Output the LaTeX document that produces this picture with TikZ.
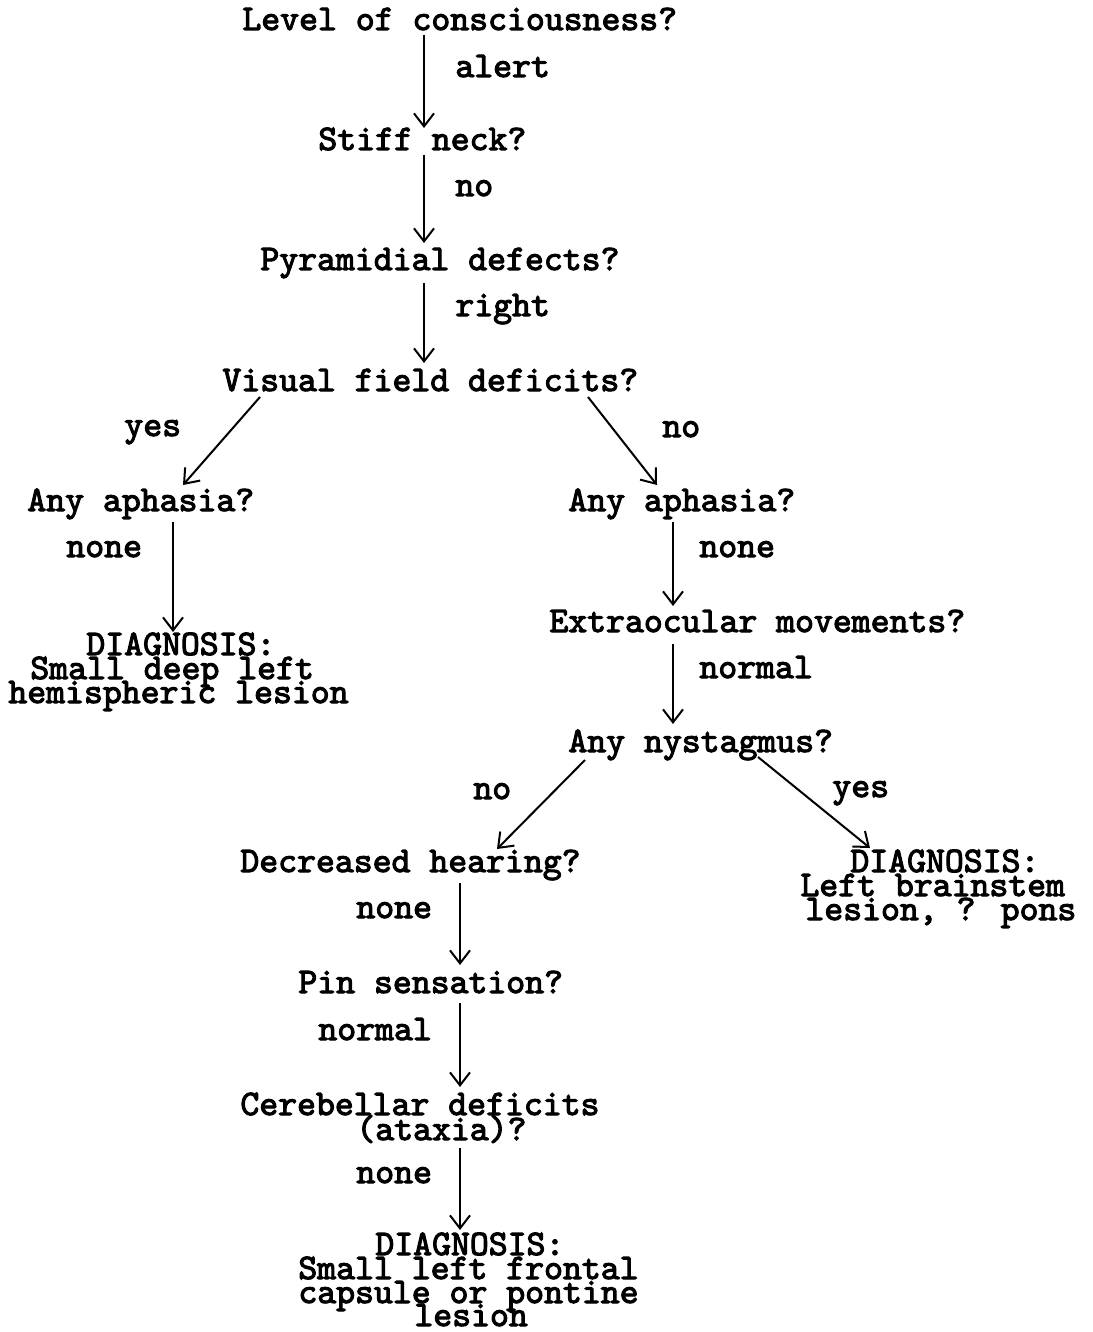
\documentclass[tikz,border=0pt]{standalone}
\usepackage{fontspec}
\usetikzlibrary{arrows.meta,calc}
\newfontfamily\flowfont{lmmono10-regular}[Extension=.otf, FakeBold=3]
\tikzset{
  txt/.style={inner sep=0pt, anchor=base west, font=\flowfont\bfseries\fontsize{18pt}{12pt}\selectfont},
  arr/.style={line width=1pt, -{Straight Barb[length=6.5pt,width=10pt,line width=1pt]}},
}
\begin{document}
\begin{tikzpicture}[x=0.5pt,y=-0.5pt]
\useasboundingbox (0,0) rectangle (1092,1332);
% questions
\node[txt] (lvl)   at (242,30)  {Level of consciousness?};
\node[txt] (stiff) at (318,150) {Stiff neck?};
\node[txt] (pyr)   at (260,270) {Pyramidial defects?};
\node[txt] (vis)   at (222,391) {Visual field deficits?};
\node[txt] (anyL)  at (27,511)  {Any aphasia?};
\node[txt] (anyR)  at (568,511) {Any aphasia?};
\node[txt] (eom)   at (549,632) {Extraocular movements?};
\node[txt] (nys)   at (568,752) {Any nystagmus?};
\node[txt] (hear)  at (240,872) {Decreased hearing?};
\node[txt] (pin)   at (298,993) {Pin sensation?};
\node[txt] (cer)   at (240,1115) {Cerebellar deficits};
\node[txt] (cer2)  at (356,1140) {(ataxia)?};
% diagnoses
\node[txt] (dxLa) at (86,655)  {DIAGNOSIS:};
\node[txt] (dxLb) at (30,679)  {Small deep left};
\node[txt] (dxLc) at (8,703)   {hemispheric lesion};
\node[txt] (dxRa) at (850,872) {DIAGNOSIS:};
\node[txt] (dxRb) at (800,896) {Left brainstem};
\node[txt] (dxRc) at (805,920) {lesion, ? pons};
\node[txt] (dxBa) at (375,1255) {DIAGNOSIS:};
\node[txt] (dxBb) at (298,1279) {Small left frontal};
\node[txt] (dxBc) at (298,1303) {capsule or pontine};
\node[txt] (dxBd) at (414,1326) {lesion};
% labels
\node[txt] (l1)  at (455,77)   {alert};
\node[txt] (l2)  at (455,196)  {no};
\node[txt] (l3)  at (455,316)  {right};
\node[txt] (l4)  at (124,436)  {yes};
\node[txt] (l5)  at (662,437)  {no};
\node[txt] (l6)  at (66,557)   {none};
\node[txt] (l7)  at (699,557)  {none};
\node[txt] (l8)  at (699,678)  {normal};
\node[txt] (l9)  at (473,799)  {no};
\node[txt] (l10) at (832,797)  {yes};
\node[txt] (l11) at (356,918)  {none};
\node[txt] (l12) at (318,1040) {normal};
\node[txt] (l13) at (356,1183) {none};
% connectors
\draw[arr] ($(lvl.base west)+(182,5)$)   -- ($(stiff.base west)+(106,-22)$);
\draw[arr] ($(stiff.base west)+(106,5)$) -- ($(pyr.base west)+(164,-27)$);
\draw[arr] ($(pyr.base west)+(164,13)$)  -- ($(vis.base west)+(202,-28)$);
\draw[arr] ($(vis.base west)+(38,6)$)    -- ($(anyL.base west)+(156,-26)$);
\draw[arr] ($(vis.base west)+(366,6)$)   -- ($(anyR.base west)+(89,-26)$);
\draw[arr] ($(anyL.base west)+(146,11)$) -- ($(dxLa.base west)+(87,-23)$);
\draw[arr] ($(anyR.base west)+(105,11)$) -- ($(eom.base west)+(124,-26)$);
\draw[arr] ($(eom.base west)+(124,12)$)  -- ($(nys.base west)+(105,-28)$);
\draw[arr] ($(nys.base west)+(17,8)$)    -- ($(hear.base west)+(257,-23)$);
\draw[arr] ($(nys.base west)+(190,5)$)   -- ($(dxRa.base west)+(20,-24)$);
\draw[arr] ($(hear.base west)+(220,11)$) -- ($(pin.base west)+(162,-28)$);
\draw[arr] ($(pin.base west)+(162,10)$)  -- ($(cer.base west)+(220,-28)$);
\draw[arr] ($(cer2.base west)+(104,8)$)  -- ($(dxBa.base west)+(85,-25)$);
\end{tikzpicture}
\end{document}
